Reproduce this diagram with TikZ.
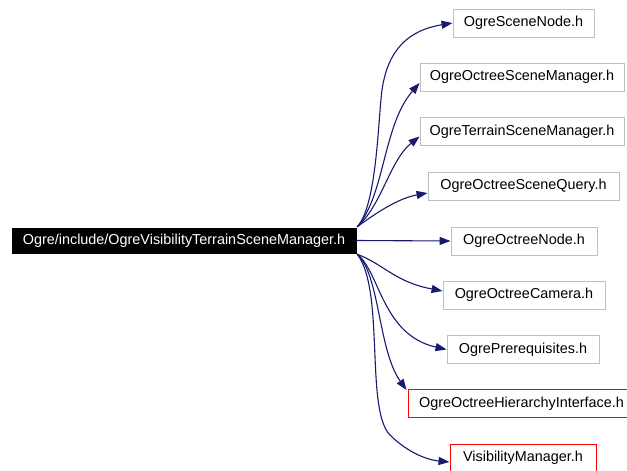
\documentclass[tikz,border=0pt]{standalone}
\usepackage{fontspec}
\setmainfont{Liberation Sans}
\usetikzlibrary{arrows.meta}
\definecolor{edgeblue}{HTML}{191970}
\definecolor{boxgray}{HTML}{BFBFBF}
\begin{document}
\begin{tikzpicture}[x=1pt,y=-1pt,
  file/.style={draw=boxgray,line width=0.9pt,inner sep=0pt,minimum height=28pt,font=\fontsize{14.4}{17}\selectfont},
  redfile/.style={file,draw=red},
  mainfile/.style={fill=black,draw=black,text=white,inner sep=0pt,minimum height=25pt,minimum width=344pt,font=\fontsize{14.4}{17}\selectfont},
  dep/.style={draw=edgeblue,line width=1.1pt,-{Triangle[length=11pt,width=8pt]}}]
\useasboundingbox (0,0) rectangle (627,471);
\clip (0,0) rectangle (627,471);
\node[mainfile] (main) at (184,240.5) {Ogre/include/OgreVisibilityTerrainSceneManager.h};
\node[file,minimum width=141pt] (scn) at (523.5,23) {OgreSceneNode.h};
\node[file,minimum width=204pt] (osm) at (522,77) {OgreOctreeSceneManager.h};
\node[file,minimum width=204pt] (tsm) at (522,131.5) {OgreTerrainSceneManager.h};
\node[file,minimum width=191pt] (osq) at (523.5,186) {OgreOctreeSceneQuery.h};
\node[file,minimum width=146pt] (ond) at (524,241) {OgreOctreeNode.h};
\node[file,minimum width=162pt] (ocm) at (524,295) {OgreOctreeCamera.h};
\node[file,minimum width=152pt] (prq) at (523,349.5) {OgrePrerequisites.h};
\node[redfile,minimum width=227pt] (ohi) at (521.5,403.5) {OgreOctreeHierarchyInterface.h};
\node[redfile,minimum width=146pt] (vm) at (523,458) {VisibilityManager.h};
\coordinate (up) at ([xshift=1pt,yshift=1pt]main.north east);
\coordinate (dn) at ([xshift=1pt,yshift=-1pt]main.south east);
\draw[dep] (up) .. controls (377,205) and (378,120) .. (382,90) .. controls (388,48) and (410,30) .. (scn.west);
\draw[dep] (up) .. controls (385,195) and (383,125) .. ([yshift=-6pt]osm.west);
\draw[dep] (up) .. controls (382,205) and (390,160) .. ([yshift=-5pt]tsm.west);
\draw[dep] (up) .. controls (380,210) and (400,198) .. ([yshift=-7pt]osq.west);
\draw[dep] (main.east) -- (ond.west);
\draw[dep] (dn) .. controls (385,265) and (395,282) .. ([yshift=4pt]ocm.west);
\draw[dep] (dn) .. controls (380,272) and (382,335) .. (prq.west);
\draw[dep] (dn) .. controls (380,275) and (378,350) .. ([xshift=-1pt,yshift=-1pt]ohi.north west);
\draw[dep] (dn) .. controls (385,290) and (365,410) .. (390,435) .. controls (408,453) and (428,460) .. ([yshift=-4pt]vm.west);
\end{tikzpicture}
\end{document}
